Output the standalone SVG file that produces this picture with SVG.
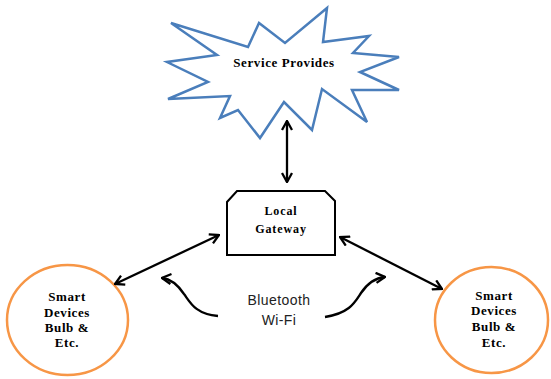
<svg xmlns="http://www.w3.org/2000/svg" width="551" height="379" viewBox="0 0 551 379">
<style>
.serif{font-family:"Liberation Serif","Times New Roman",serif;font-weight:bold;fill:#000;text-anchor:middle}
.sans{font-family:"Liberation Sans",Arial,sans-serif;fill:#222;text-anchor:middle;font-size:14px;letter-spacing:0.4px}
.conn{fill:none;stroke:#000;stroke-width:2.3}
.dev{fill:#fff;stroke:#F79646;stroke-width:2.5}
</style>
<defs>
<marker id="ah2" viewBox="0 0 12 12" refX="11" refY="6" markerWidth="12" markerHeight="12" markerUnits="userSpaceOnUse" orient="auto-start-reverse">
<path d="M2,1 L11,6 L2,11" fill="none" stroke="#000" stroke-width="2.3"/>
</marker>
</defs>
<rect width="551" height="379" fill="#fff"/>
<g id="service">
<polygon points="171,23 248,47 259,23 285,43 327,8 323,42 369,36 353,53 399,57 360,72 399,90 352,90 367,122 322,89 312,130 284,102 260,138 238,110 220,118 230,96 168,99 208,82 167,62 217,55" fill="#fff" stroke="#4A7EBB" stroke-width="2.5" stroke-linejoin="miter"/>
<text class="serif" x="284" y="67" font-size="13" letter-spacing="0.6">Service Provides</text>
</g>
<g id="gateway">
<path d="M237,191 L325,191 L335,201 L335,255 L227,255 L227,202 Z" fill="#fff" stroke="#000" stroke-width="2"/>
<text class="serif" x="281" y="215" font-size="12" letter-spacing="0.9">Local</text>
<text class="serif" x="281" y="233" font-size="12" letter-spacing="0.9">Gateway</text>
</g>
<g id="device-left">
<ellipse class="dev" cx="67.5" cy="320" rx="60.5" ry="55"/>
<g class="serif" font-size="13" letter-spacing="0.6">
<text x="67" y="301">Smart</text>
<text x="67" y="317">Devices</text>
<text x="67" y="332">Bulb &amp;</text>
<text x="67" y="347">Etc.</text>
</g>
</g>
<g id="device-right">
<ellipse class="dev" cx="491.5" cy="320" rx="56.5" ry="53"/>
<g class="serif" font-size="13" letter-spacing="0.6">
<text x="494" y="300">Smart</text>
<text x="494" y="315">Devices</text>
<text x="494" y="331">Bulb &amp;</text>
<text x="494" y="347">Etc.</text>
</g>
</g>
<g id="protocols">
<text class="sans" x="279" y="305">Bluetooth</text>
<text class="sans" x="279" y="325">Wi-Fi</text>
</g>
<g id="connectors">
<line class="conn" x1="287" y1="121" x2="287" y2="182" marker-start="url(#ah2)" marker-end="url(#ah2)"/>
<line class="conn" x1="219" y1="235" x2="115" y2="284" marker-start="url(#ah2)" marker-end="url(#ah2)"/>
<line class="conn" x1="340" y1="237" x2="442" y2="289" marker-start="url(#ah2)" marker-end="url(#ah2)"/>
<path class="conn" d="M218,316 C195,314 190,302 184,294 C178,285 171,279 162,278" marker-end="url(#ah2)"/>
<path class="conn" d="M325,317 C350,313 355,302 361,293 C367,284 375,278 385,277" marker-end="url(#ah2)"/>
</g>
</svg>
